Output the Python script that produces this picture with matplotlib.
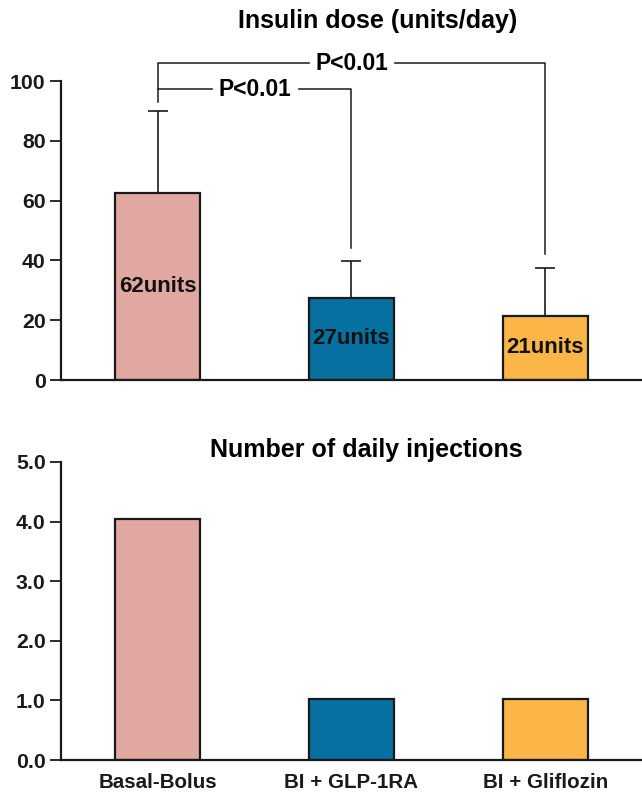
import numpy as np
import matplotlib.pyplot as plt

plt.rcParams['font.family'] = ['Liberation Sans', 'DejaVu Sans']
plt.rcParams['font.weight'] = 'bold'

# ── Data ──────────────────────────────────────────────────────────────────
groups = ["Basal-Bolus", "BI + GLP-1RA", "BI + Gliflozin"]
dose = [62.7, 27.5, 21.5]
dose_err = [27.3, 12.3, 16.0]
dose_labels = ["62units", "27units", "21units"]
injections = [4.04, 1.02, 1.02]
colors = ["#E1A8A2", "#0670A0", "#FBB647"]
pvals = ["P<0.01", "P<0.01"]

x = np.arange(len(groups))
edge = "#1a1a1a"

fig = plt.figure(figsize=(6.42, 7.95), dpi=100)
ax1 = fig.add_axes([0.095, 0.522, 0.905, 0.376])
ax2 = fig.add_axes([0.095, 0.044, 0.905, 0.375])

def style(ax):
    for s in ["top", "right"]:
        ax.spines[s].set_visible(False)
    for s in ["left", "bottom"]:
        ax.spines[s].set_linewidth(1.6)
        ax.spines[s].set_color(edge)
    ax.tick_params(axis="y", length=8, width=1.3, labelsize=15.3, pad=3, colors=edge)
    ax.set_xlim(-0.5, 2.5)

# ── Top: insulin dose ─────────────────────────────────────────────────────
style(ax1)
ax1.bar(x, dose, width=0.44, color=colors, edgecolor=edge, linewidth=1.6, zorder=2)
ax1.errorbar(x, dose, yerr=[np.zeros(3), dose_err], fmt="none", ecolor=edge,
             elinewidth=1.2, capsize=7, capthick=1.2, zorder=1)
for xi, h, lab in zip(x, dose, dose_labels):
    ax1.text(xi, h / 2, lab, ha="center", va="center", fontsize=16, fontweight="bold", color="#111111")
ax1.set_ylim(0, 100)
ax1.set_yticks([0, 20, 40, 60, 80, 100])
ax1.set_xticks([])
ax1.set_title("Insulin dose (units/day)", fontsize=18, fontweight="bold", pad=38, x=0.545)

# significance brackets
lw = 1.1
ax1.plot([0, 0, 1, 1], [93, 97.3, 97.3, 44], color=edge, lw=lw, clip_on=False)
ax1.plot([0, 0, 2, 2], [97.3, 106, 106, 42], color=edge, lw=lw, clip_on=False)
ax1.text(0.5, 97.3, pvals[0], ha="center", va="center", fontsize=16.4, fontweight="bold",
         backgroundcolor="white", clip_on=False)
ax1.text(1.0, 106, pvals[1], ha="center", va="center", fontsize=16.4, fontweight="bold",
         backgroundcolor="white", clip_on=False)

# ── Bottom: daily injections ──────────────────────────────────────────────
style(ax2)
ax2.bar(x, injections, width=0.44, color=colors, edgecolor=edge, linewidth=1.6, zorder=2)
ax2.set_ylim(0, 5)
ax2.set_yticks([0, 1, 2, 3, 4, 5])
ax2.set_yticklabels([f"{v:.1f}" for v in [0, 1, 2, 3, 4, 5]])
ax2.set_xticks(x)
ax2.set_xticklabels(groups, fontsize=14.8, fontweight="bold")
ax2.tick_params(axis="x", length=0, pad=9, colors=edge)
ax2.set_title("Number of daily injections", fontsize=18, fontweight="bold", pad=2, x=0.525)

fig.savefig("out.png", dpi=100)
